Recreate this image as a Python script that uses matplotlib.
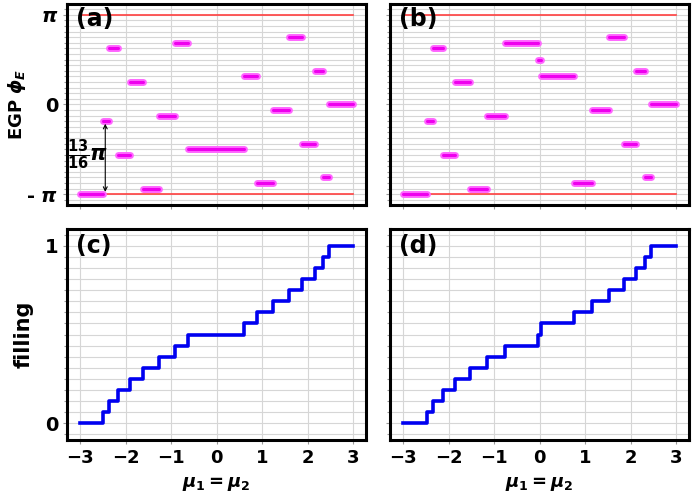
import numpy as np
import matplotlib
matplotlib.use('Agg')
import matplotlib.pyplot as plt
from matplotlib.ticker import MultipleLocator

plt.rcParams['font.family'] = ['DejaVu Sans']
plt.rcParams['font.weight'] = 'bold'
plt.rcParams['mathtext.fontset'] = 'custom'
plt.rcParams['mathtext.rm'] = 'DejaVu Sans:bold'
plt.rcParams['mathtext.it'] = 'DejaVu Sans:italic:bold'
plt.rcParams['mathtext.bf'] = 'DejaVu Sans:bold'

# plateau edges (mu1 = mu2)
edges_a = [-3.0, -2.49, -2.36, -2.16, -1.90, -1.61, -1.26, -0.91, -0.63,
           0.60, 0.89, 1.23, 1.58, 1.88, 2.15, 2.34, 2.46, 3.0]
edges_b = [-3.0, -2.47, -2.34, -2.13, -1.87, -1.54, -1.17, -0.77, -0.04,
           0.025, 0.75, 1.14, 1.52, 1.84, 2.12, 2.31, 2.45, 3.0]

# EGP on each plateau, in units of pi/16
egp_a = [-16, -3, 10, -9, 4, -15, -2, 11, -8, 5, -14, -1, 12, -7, 6, -13, 0]
egp_b = [-16, -3, 10, -9, 4, -15, -2, 11, 8, 5, -14, -1, 12, -7, 6, -13, 0]

# filling on each plateau, in units of 1/16
fill_c = [0, 1, 2, 3, 4, 5, 6, 7, 8, 9, 10, 11, 12, 13, 14, 15, 16]
fill_d = [0, 1, 2, 3, 4, 5, 6, 7, 8, 9, 10, 11, 12, 13, 14, 15, 16]

xticks = [-3, -2, -1, 0, 1, 2, 3]

fig = plt.figure(figsize=(6.99, 5.01), dpi=100)
ax_a = fig.add_axes([0.0959, 0.591, 0.4278, 0.401])
ax_b = fig.add_axes([0.558, 0.591, 0.4278, 0.401])
ax_c = fig.add_axes([0.0959, 0.1218, 0.4278, 0.421])
ax_d = fig.add_axes([0.558, 0.1218, 0.4278, 0.421])

grid_col = '#d6d6d6'


def style(ax, ystep):
    ax.set_xlim(-3.29, 3.28)
    ax.set_xticks(xticks)
    ax.yaxis.set_minor_locator(MultipleLocator(ystep))
    ax.grid(True, which='both', color=grid_col, lw=0.8)
    ax.set_axisbelow(True)
    for s in ax.spines.values():
        s.set_linewidth(2.2)
    ax.tick_params(which='both', direction='out', color='#999999', length=3, width=0.8,
                   labelsize=13)
    ax.tick_params(which='minor', length=2)


for ax, edges, egp, lab in [(ax_a, edges_a, egp_a, '(a)'), (ax_b, edges_b, egp_b, '(b)')]:
    style(ax, np.pi / 16)
    ax.set_ylim(-1.12 * np.pi, 1.12 * np.pi)
    ax.set_yticks([-np.pi, 0, np.pi])
    ax.plot([-3, 3], [np.pi, np.pi], color='#ff4040', lw=1.2, zorder=2)
    ax.plot([-3, 3], [-np.pi, -np.pi], color='#ff4040', lw=1.2, zorder=2)
    for i in range(len(egp)):
        y = egp[i] * np.pi / 16
        ax.plot([edges[i], edges[i + 1]], [y, y], color='#ff66ff', lw=5,
                solid_capstyle='round', zorder=3)
        ax.plot([edges[i], edges[i + 1]], [y, y], color='#ee00ee', lw=2.2,
                solid_capstyle='round', zorder=4)
    ax.set_xticklabels([])
    ax.text(0.03, 0.985, lab, transform=ax.transAxes, fontsize=17,
            fontweight='bold', va='top', ha='left', zorder=5)

ax_a.set_yticklabels([r'- $\pi$', '0', r'$\pi$'], fontsize=14)
ax_b.set_yticklabels([])
ax_a.set_ylabel(r'EGP $\phi_E$', fontsize=13, fontweight='bold')
ax_a.yaxis.set_label_coords(-0.13, 0.5)

# 13/16 pi arrow in (a)
ax_a.annotate('', xy=(-2.45, -0.975 * np.pi), xytext=(-2.45, -0.215 * np.pi),
              arrowprops=dict(arrowstyle='<->', color='black', lw=0.8,
                              shrinkA=0, shrinkB=0, mutation_scale=7))
ax_a.text(-3.29, -0.566 * np.pi, r'$\frac{13}{16}\pi$', fontsize=15,
          ha='left', va='center')

for ax, edges, fill, lab in [(ax_c, edges_a, fill_c, '(c)'), (ax_d, edges_b, fill_d, '(d)')]:
    style(ax, 1 / 16)
    ax.set_ylim(-0.094, 1.094)
    ax.set_yticks([0, 1])
    levels = [f / 16 for f in fill]
    ax.step(edges, levels + [levels[-1]], where='post', color='#0000f0', lw=2.6, zorder=3)
    ax.set_xlabel(r'$\mu_1 = \mu_2$', fontsize=13, labelpad=6)
    ax.text(0.03, 0.975, lab, transform=ax.transAxes, fontsize=17,
            fontweight='bold', va='top', ha='left', zorder=5)

ax_c.set_yticklabels(['0', '1'], fontsize=14)
ax_d.set_yticklabels([])
ax_c.set_ylabel('filling', fontsize=15, fontweight='bold')
ax_c.yaxis.set_label_coords(-0.112, 0.5)

fig.savefig('out.png', dpi=100)
